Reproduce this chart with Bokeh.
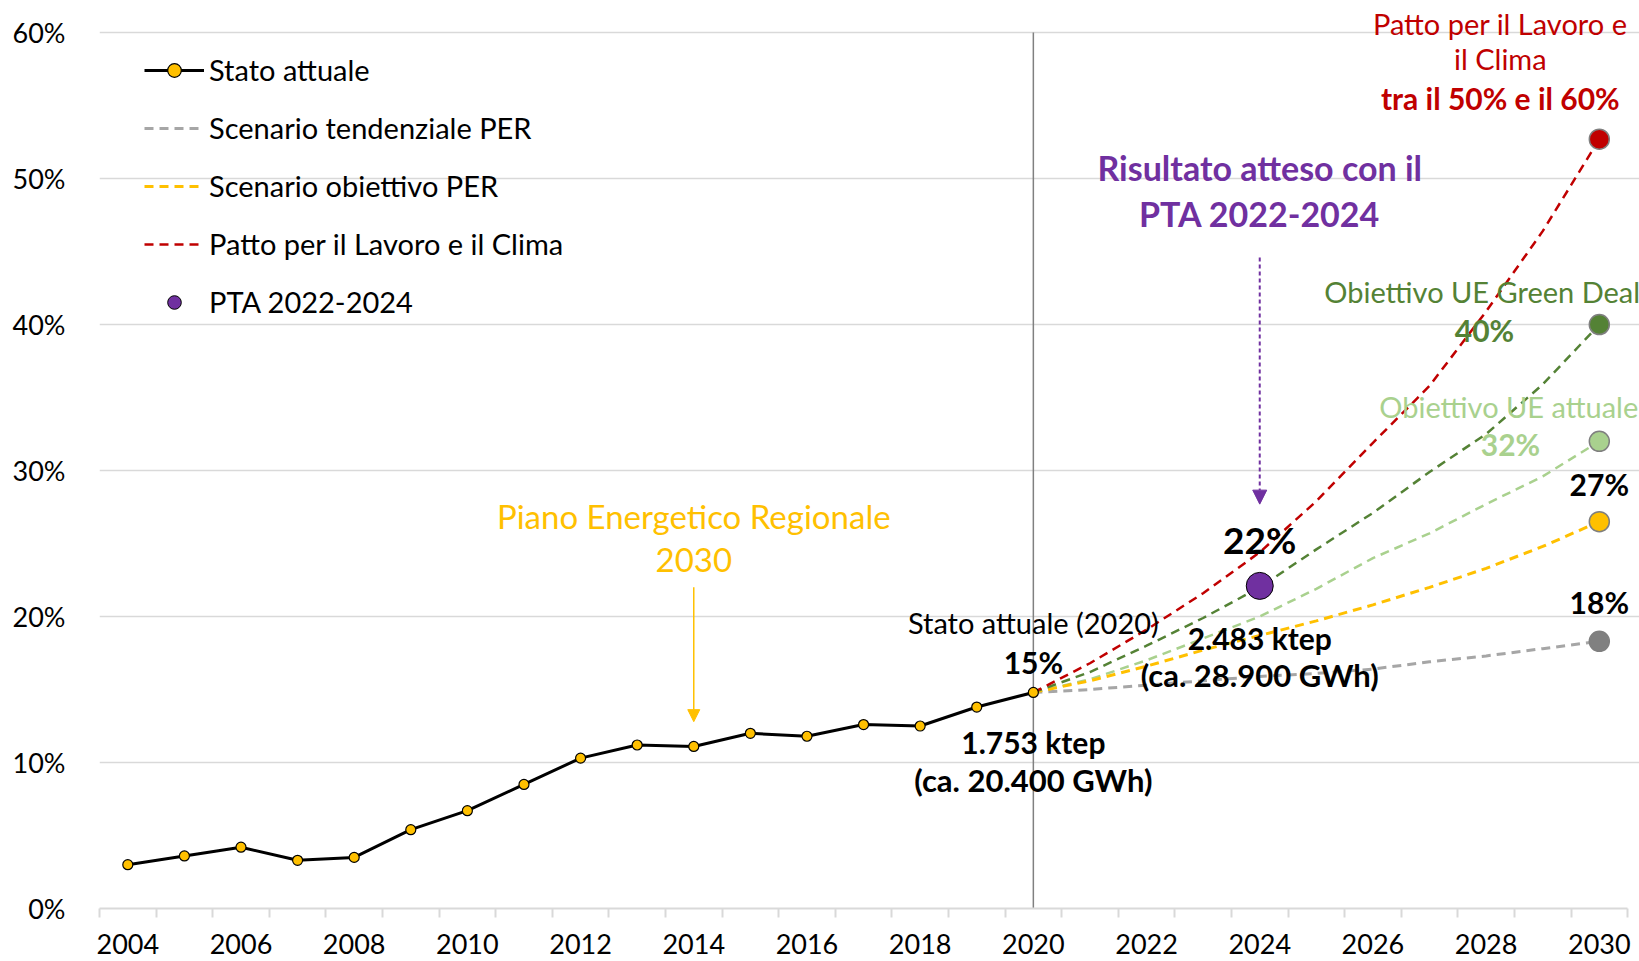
from bokeh.plotting import figure
from bokeh.models import (Range1d, FixedTicker, PrintfTickFormatter, Label,
                          Legend, LegendItem, Arrow, NormalHead)
from bokeh.embed import file_html
from bokeh.resources import INLINE

# ---------------- data ----------------
years_hist = [2004, 2005, 2006, 2007, 2008, 2009, 2010, 2011, 2012, 2013,
              2014, 2015, 2016, 2017, 2018, 2019, 2020]
stato_attuale = [3.0, 3.6, 4.2, 3.3, 3.5, 5.4, 6.7, 8.5, 10.3, 11.2,
                 11.1, 12.0, 11.8, 12.6, 12.5, 13.8, 14.8]

years_proj = [2020, 2021, 2022, 2023, 2024, 2025, 2026, 2027, 2028, 2029, 2030]
scenario_tendenziale = [14.8, 15.0, 15.3, 15.6, 15.9, 16.1, 16.4, 16.9, 17.3, 17.8, 18.3]
scenario_obiettivo = [14.8, 15.6, 16.6, 17.7, 18.7, 19.7, 20.8, 22.0, 23.3, 24.8, 26.5]
ue_attuale = [14.8, 15.7, 17.0, 18.5, 20.0, 21.9, 24.0, 25.7, 27.7, 29.6, 32.0]
ue_green_deal = [14.8, 16.2, 18.0, 19.9, 22.0, 24.6, 27.1, 29.9, 32.5, 35.9, 40.0]
patto_clima = [14.8, 16.8, 19.1, 21.6, 24.4, 27.9, 31.9, 35.8, 40.9, 46.4, 52.7]

pta_year = [2024]
pta_value = [22.1]

x_tick_years = [2004, 2006, 2008, 2010, 2012, 2014, 2016, 2018, 2020,
                2022, 2024, 2026, 2028, 2030]
y_ticks = [0, 10, 20, 30, 40, 50, 60]

# ---------------- colours ----------------
RED = "#C00000"
DGREEN = "#548235"
LGREEN = "#A9D18E"
YELLOW = "#FFC000"
GRAY_LINE = "#A6A6A6"
GRAY_PT = "#808080"
PURPLE = "#7030A0"
FONT = "Lato"

x_lo, x_hi = years_hist[0] - 0.5, years_proj[-1] + 0.5

p = figure(width=1639, height=961, output_backend="svg", toolbar_location=None,
           x_range=Range1d(x_lo, x_hi + 0.21), y_range=Range1d(0, 62.2),
           min_border_left=99, min_border_right=0, min_border_top=0,
           min_border_bottom=53)
p.outline_line_color = None
p.background_fill_color = "white"
p.border_fill_color = "white"

# axes / grid
p.xgrid.grid_line_color = None
p.ygrid.grid_line_color = "#D9D9D9"
p.ygrid.grid_line_width = 1.5
p.ygrid.ticker = FixedTicker(ticks=y_ticks)

xa = p.xaxis[0]
xa.bounds = (x_lo, x_hi)
xa.ticker = FixedTicker(ticks=x_tick_years,
                        minor_ticks=[y - 0.5 for y in years_hist + years_proj[1:]] + [x_hi])
xa.major_label_overrides = {y: str(y) for y in x_tick_years}
xa.axis_line_color = "#D9D9D9"
xa.axis_line_width = 2
xa.major_tick_line_color = None
xa.major_tick_out = 0
xa.major_tick_in = 0
xa.minor_tick_line_color = "#D9D9D9"
xa.minor_tick_line_width = 2
xa.minor_tick_out = 9
xa.minor_tick_in = 0
xa.major_label_standoff = 16
xa.major_label_text_font = FONT
xa.major_label_text_font_size = "27px"
xa.major_label_text_color = "#000000"

ya = p.yaxis[0]
ya.ticker = FixedTicker(ticks=y_ticks)
ya.formatter = PrintfTickFormatter(format="%d%%")
ya.axis_line_color = None
ya.major_tick_line_color = None
ya.minor_tick_line_color = None
ya.major_tick_out = 0
ya.major_label_standoff = 34
ya.major_label_text_font = FONT
ya.major_label_text_font_size = "27px"
ya.major_label_text_color = "#000000"

# vertical reference line at 2020 (from 0% to 60%)
p.segment(x0=[years_proj[0]], y0=[y_ticks[0]], x1=[years_proj[0]], y1=[y_ticks[-1]],
          line_color="#808080", line_width=1.5)

# projections
r_gray = p.line(years_proj, scenario_tendenziale, line_color=GRAY_LINE, line_width=3, line_dash="9 6")
r_lg = p.line(years_proj, ue_attuale, line_color=LGREEN, line_width=2.5, line_dash="9 6")
r_yel = p.line(years_proj, scenario_obiettivo, line_color=YELLOW, line_width=3, line_dash="9 6")
r_dg = p.line(years_proj, ue_green_deal, line_color=DGREEN, line_width=2.5, line_dash="9 6")
r_red = p.line(years_proj, patto_clima, line_color=RED, line_width=2.5, line_dash="9 6")

# end points 2030
for series, col in [(scenario_tendenziale, GRAY_PT), (scenario_obiettivo, YELLOW),
                    (ue_attuale, LGREEN), (ue_green_deal, DGREEN), (patto_clima, RED)]:
    p.scatter([years_proj[-1]], [series[-1]], size=20, marker="circle",
              fill_color=col, line_color="#7F7F7F", line_width=1.5)

# history
r_hist = p.line(years_hist, stato_attuale, line_color="black", line_width=3)
r_hist_pts = p.scatter(years_hist, stato_attuale, size=10, marker="circle",
                       fill_color=YELLOW, line_color="black", line_width=1.2)

# PTA point
r_pta = p.scatter(pta_year, pta_value, size=27, marker="circle",
                  fill_color=PURPLE, line_color="black", line_width=1)

# arrows
p.add_layout(Arrow(end=NormalHead(size=14, fill_color=PURPLE, line_color=PURPLE),
                   x_start=pta_year[0], y_start=44.6, x_end=pta_year[0], y_end=27.7,
                   line_color=PURPLE, line_width=2, line_dash="4 3"))
p.add_layout(Arrow(end=NormalHead(size=12, fill_color=YELLOW, line_color=YELLOW),
                   x_start=2014, y_start=22.0, x_end=2014, y_end=12.8,
                   line_color=YELLOW, line_width=1.5))


def lab(x, y, text, color="black", size=29, bold=False):
    p.add_layout(Label(x=x, y=y, text=text, text_color=color, text_font=FONT,
                       text_font_size=f"{size}px",
                       text_font_style="bold" if bold else "normal",
                       text_align="center", text_baseline="middle"))


lab(2028.25, 60.6, "Patto per il Lavoro e", RED)
lab(2028.25, 58.2, "il Clima", RED)
lab(2028.25, 55.5, "tra il 50% e il 60%", RED, size=30, bold=True)
lab(2024, 50.75, "Risultato atteso con il", PURPLE, size=34, bold=True)
lab(2024, 47.6, "PTA 2022-2024", PURPLE, size=34, bold=True)
lab(2024, 25.3, "22%", "black", size=37, bold=True)
lab(2027.93, 42.3, "Obiettivo UE Green Deal", DGREEN)
lab(2027.97, 39.66, "40%", DGREEN, size=30, bold=True)
lab(2028.4, 34.4, "Obiettivo UE attuale", LGREEN)
lab(2028.43, 31.85, "32%", LGREEN, size=30, bold=True)
lab(2030, 29.1, "27%", "black", size=30, bold=True)
lab(2030, 21.0, "18%", "black", size=30, bold=True)
lab(2020, 19.6, "Stato attuale (2020)", "black")
lab(2020, 16.9, "15%", "black", size=30, bold=True)
lab(2020, 11.4, "1.753 ktep", "black", size=30, bold=True)
lab(2020, 8.8, "(ca. 20.400 GWh)", "black", size=31, bold=True)
lab(2024, 18.5, "2.483 ktep", "black", size=30, bold=True)
lab(2024, 16.0, "(ca. 28.900 GWh)", "black", size=31, bold=True)
lab(2014, 26.9, "Piano Energetico Regionale", YELLOW, size=33)
lab(2014, 23.9, "2030", YELLOW, size=33)

legend = Legend(items=[
    LegendItem(label="Stato attuale", renderers=[r_hist, r_hist_pts]),
    LegendItem(label="Scenario tendenziale PER", renderers=[r_gray]),
    LegendItem(label="Scenario obiettivo PER", renderers=[r_yel]),
    LegendItem(label="Patto per il Lavoro e il Clima", renderers=[r_red]),
    LegendItem(label="PTA 2022-2024", renderers=[r_pta]),
], location=(45, 589))
legend.background_fill_alpha = 0
legend.border_line_color = None
legend.padding = 0
legend.margin = 0
legend.spacing = 23
legend.glyph_width = 60
legend.glyph_height = 34
legend.label_height = 34
legend.label_standoff = 5
legend.label_text_font = FONT
legend.label_text_font_size = "29px"
legend.label_text_color = "black"
p.add_layout(legend)

open("out.html", "w").write(file_html(p, INLINE))
